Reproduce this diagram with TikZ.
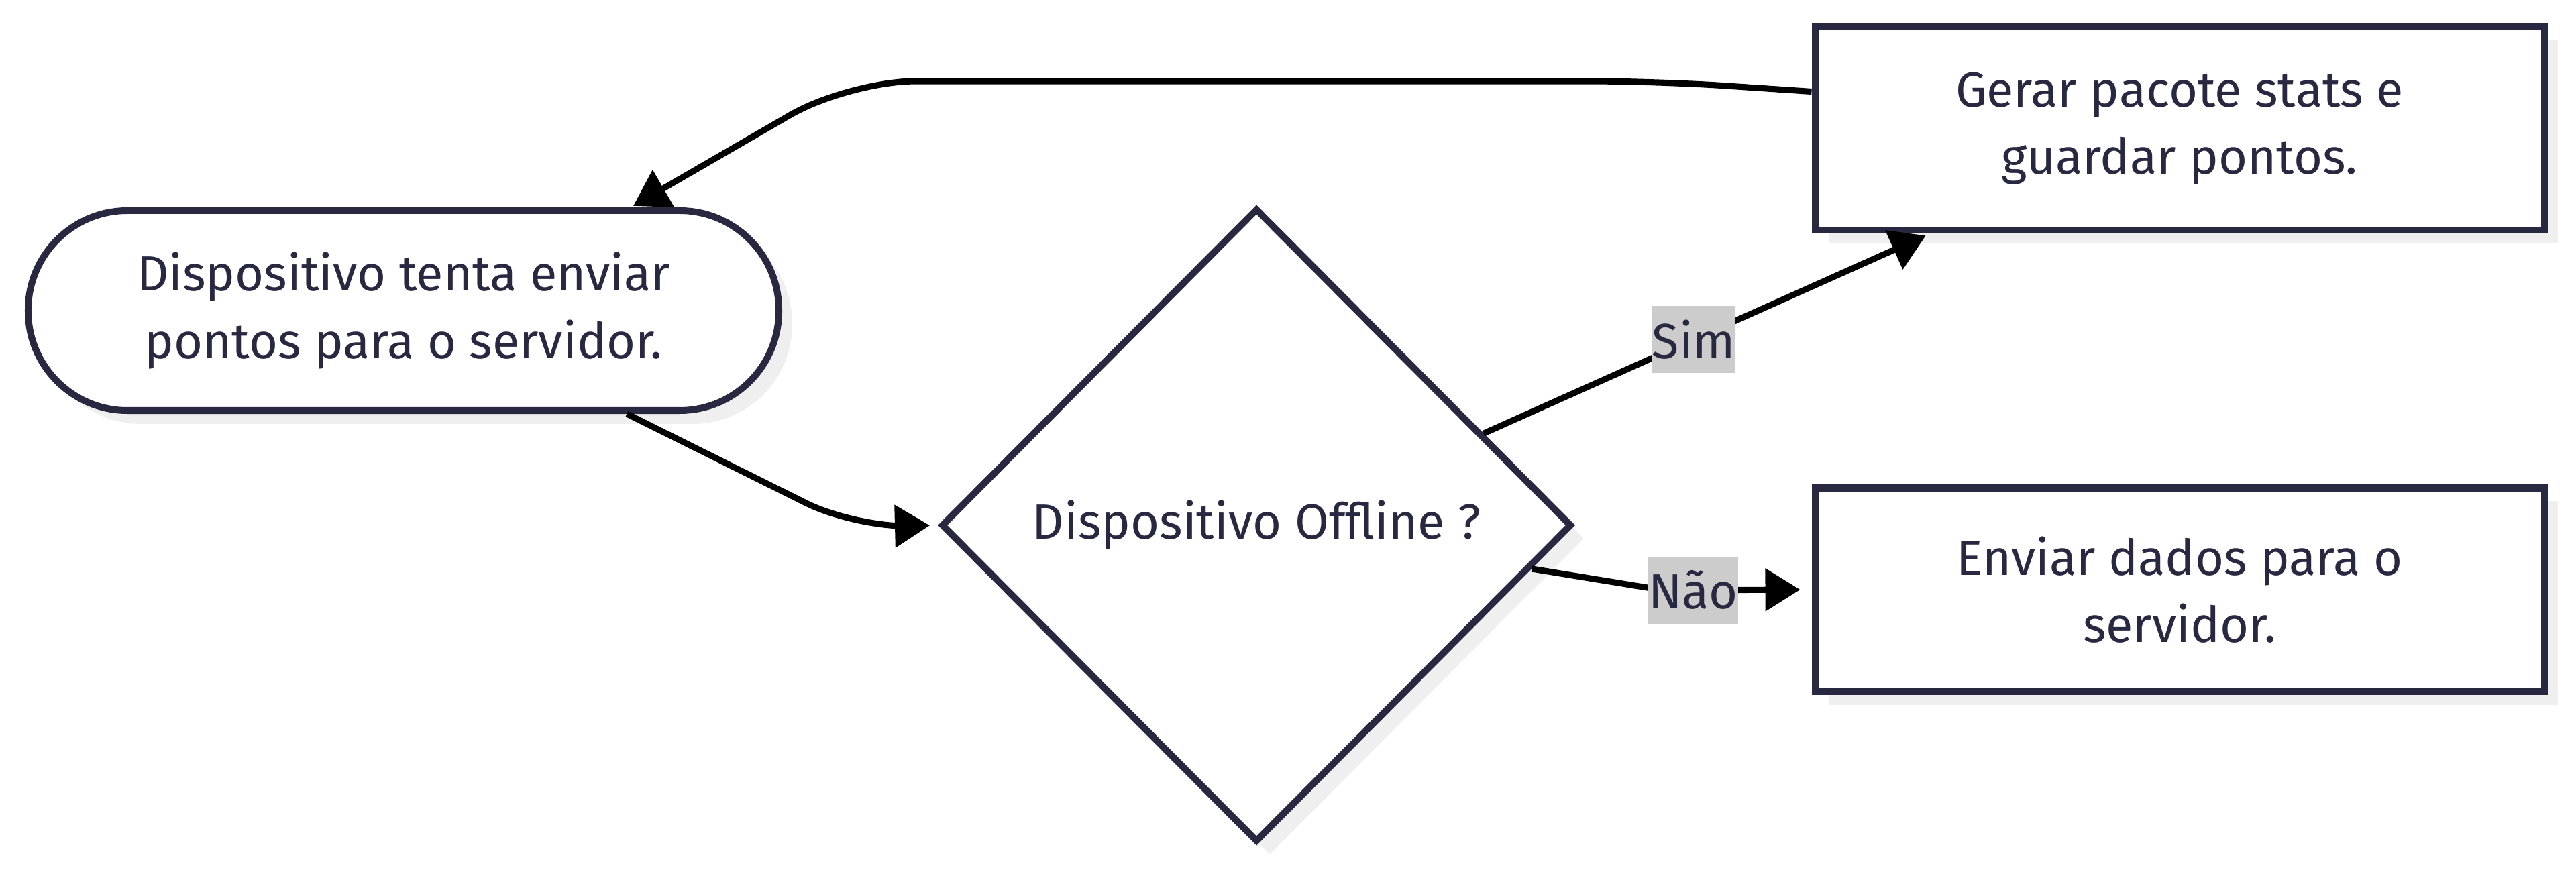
\documentclass[tikz,border=0pt]{standalone}
\usepackage{fontspec}
\setmainfont{Fira Sans}
\usepackage{tikz}
\usetikzlibrary{arrows.meta, shapes.geometric, shadows}
\definecolor{ink}{HTML}{282841}
\definecolor{shade}{HTML}{EFEFEF}
\definecolor{lblgray}{HTML}{CCCCCC}

\begin{document}
\begin{tikzpicture}[
  box/.style={draw=ink, line width=2.85pt, fill=white, text=ink, align=center,
    font=\fontsize{21pt}{28.5pt}\selectfont,
    drop shadow={shadow xshift=0.2cm, shadow yshift=-0.2cm, fill=shade, opacity=1}},
  term/.style={box, rectangle, rounded corners=1.48cm, minimum width=11.19cm, minimum height=2.98cm},
  process/.style={box, rectangle, minimum width=10.87cm, minimum height=3.03cm},
  decision/.style={box, diamond, minimum width=9.4cm, minimum height=9.45cm, inner sep=0pt},
  edge/.style={line width=2.6pt, -{Triangle[length=5.2mm, width=6.2mm]}},
  lbl/.style={sharp corners, fill=lblgray, text=ink, inner xsep=0pt, inner ysep=0pt, minimum height=1cm,
    font=\fontsize{21pt}{28.5pt}\selectfont}
]
\useasboundingbox (0,0) rectangle (38.4,-13);

\node[term] (term) at (6.015,-4.63) {Dispositivo tenta enviar\\pontos para o servidor.};
\node[decision] (dec) at (18.73,-7.83) {Dispositivo Offline ?};
\node[process] (gerar) at (32.49,-1.915) {Gerar pacote stats e\\guardar pontos.};
\node[process] (enviar) at (32.49,-8.79) {Enviar dados para o\\servidor.};

\draw[edge, rounded corners=0.8cm, shorten >=0.12cm] ([xshift=3.33cm]term.south) -- (12.74,-7.86) -- (dec.west);
\draw[edge, shorten >=0.08cm] (dec.22) -- node[lbl, pos=0.47] {Sim} ([xshift=-3.71cm]gerar.south);
\draw[edge, rounded corners=0.3cm, shorten >=0.17cm] (dec.-9) -- (24.8,-8.80) -- node[lbl, pos=0.2] {Não} (enviar.west);
\draw[edge, rounded corners=1cm, shorten >=0.04cm] ([yshift=0.55cm]gerar.west) -- (24.7,-1.21) -- (12.65,-1.21) -- ([xshift=3.39cm]term.north);
\end{tikzpicture}
\end{document}
